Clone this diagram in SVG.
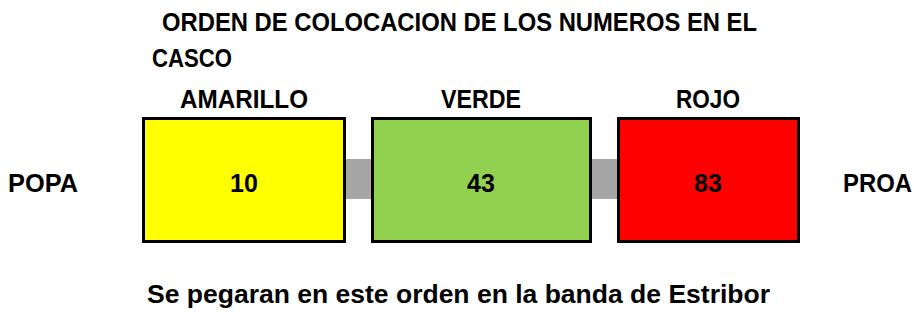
<svg xmlns="http://www.w3.org/2000/svg" width="914" height="320" viewBox="0 0 914 320">
<style>
text{font-family:"Liberation Sans",Arial,sans-serif;font-weight:bold;fill:#000;}
.lbl{font-size:25px;text-anchor:middle;}
.num{font-size:25px;text-anchor:middle;}
.box{stroke:#000;stroke-width:3;}
.conn{fill:#a6a6a6;stroke:none;}
</style>
<rect width="914" height="320" fill="#fff"/>
<text x="162" y="31" font-size="25" textLength="595" lengthAdjust="spacingAndGlyphs">ORDEN DE COLOCACION DE LOS NUMEROS EN EL</text>
<text x="152" y="67" font-size="25" textLength="80" lengthAdjust="spacingAndGlyphs">CASCO</text>
<g id="connectors">
<rect class="conn" x="345" y="159" width="27" height="40"/>
<rect class="conn" x="591" y="159" width="27" height="40"/>
</g>
<g id="amarillo">
<text class="lbl" x="244" y="108" textLength="128" lengthAdjust="spacingAndGlyphs">AMARILLO</text>
<rect class="box" x="143.5" y="118.5" width="201" height="123" fill="#ffff00"/>
<text class="num" x="244" y="192">10</text>
</g>
<g id="verde">
<text class="lbl" x="481" y="108" textLength="80" lengthAdjust="spacingAndGlyphs">VERDE</text>
<rect class="box" x="372.5" y="118.5" width="218" height="123" fill="#92d050"/>
<text class="num" x="481" y="192">43</text>
</g>
<g id="rojo">
<text class="lbl" x="708" y="108" textLength="64" lengthAdjust="spacingAndGlyphs">ROJO</text>
<rect class="box" x="618.5" y="118.5" width="180" height="123" fill="#ff0000"/>
<text class="num" x="708" y="192">83</text>
</g>
<g id="popa"><text x="8" y="192" font-size="25" textLength="70" lengthAdjust="spacingAndGlyphs">POPA</text></g>
<g id="proa"><text x="843" y="192" font-size="25" textLength="69" lengthAdjust="spacingAndGlyphs">PROA</text></g>
<text x="147" y="303" font-size="25" textLength="623" lengthAdjust="spacingAndGlyphs">Se pegaran en este orden en la banda de Estribor</text>
</svg>
